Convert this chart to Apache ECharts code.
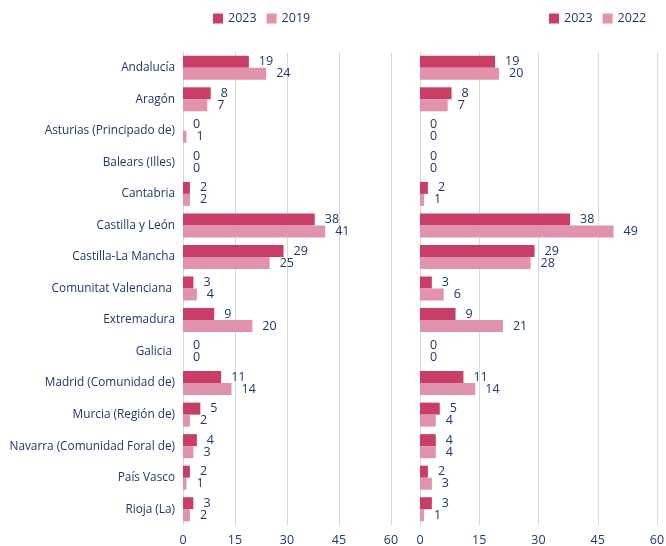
<!DOCTYPE html>
<html>
<head>
<meta charset="utf-8">
<script src="https://cdn.jsdelivr.net/npm/echarts@6/dist/echarts.min.js"></script>
<style>
	html, body { margin: 0; padding: 0; background: #fff; }
	#chart { width: 666px; height: 546px; }
</style>
</head>
<body>
<div id="chart"></div>
<script>
var regiones = ['Andalucía', 'Aragón', 'Asturias (Principado de)', 'Balears (Illes)', 'Cantabria',
	'Castilla y León', 'Castilla-La Mancha', 'Comunitat Valenciana ', 'Extremadura', 'Galicia ',
	'Madrid (Comunidad de)', 'Murcia (Región de)', 'Navarra (Comunidad Foral de)', 'País Vasco', 'Rioja (La)'];
var v2023 = [19, 8, 0, 0, 2, 38, 29, 3, 9, 0, 11, 5, 4, 2, 3];
var v2019 = [24, 7, 1, 0, 2, 41, 25, 4, 20, 0, 14, 2, 3, 1, 2];
var v2022 = [20, 7, 0, 0, 1, 49, 28, 6, 21, 0, 14, 4, 4, 3, 1];
var ticks = [0, 15, 30, 45, 60];

var texto = '#1F3864';
var oscuro = '#C83E66';
var claro = '#E093AA';

function ejeX(idx) {
	return {
		type: 'value', gridIndex: idx, min: ticks[0], max: ticks[ticks.length - 1], interval: 15,
		axisLine: { show: false }, axisTick: { show: false },
		axisLabel: { color: texto, fontSize: 12.5, margin: 9, fontFamily: 'Open Sans' },
		splitLine: { lineStyle: { color: '#D9D9D9' } }
	};
}

function ejeY(idx, labels) {
	return {
		type: 'category', gridIndex: idx, data: regiones, inverse: true,
		axisLine: { lineStyle: { color: '#D9D9D9' } }, axisTick: { show: false },
		axisLabel: { show: labels, color: texto, fontSize: 11.8, margin: 8, fontFamily: 'Open Sans' }
	};
}

function serie(nombre, datos, color, idx) {
	return {
		name: nombre, type: 'bar', xAxisIndex: idx, yAxisIndex: idx, data: datos,
		barWidth: 12, barGap: '0%', itemStyle: { color: color },
		label: { show: true, position: 'right', distance: 10, color: texto, fontSize: 12.5, fontFamily: 'Open Sans' }
	};
}

var myChart = echarts.init(document.getElementById('chart'));
var option = {
	animation: false,
	textStyle: { fontFamily: 'Open Sans' },
	legend: [{
		data: ['2023', '2019'], left: 208, top: 7, itemWidth: 10, itemHeight: 10, itemGap: 10,
		textStyle: { color: texto, fontSize: 12.5 }, icon: 'rect'
	}, {
		data: ['2023', '2022'], left: 544, top: 7, itemWidth: 10, itemHeight: 10, itemGap: 10,
		textStyle: { color: texto, fontSize: 12.5 }, icon: 'rect'
	}],
	grid: [
		{ left: 183, width: 208, top: 52, height: 473, outerBoundsMode: 'none' },
		{ left: 420, width: 237, top: 52, height: 473, outerBoundsMode: 'none' }
	],
	xAxis: [ejeX(0), ejeX(1)],
	yAxis: [ejeY(0, true), ejeY(1, false)],
	series: [
		serie('2023', v2023, oscuro, 0),
		serie('2019', v2019, claro, 0),
		serie('2023', v2023, oscuro, 1),
		serie('2022', v2022, claro, 1)
	]
};
myChart.setOption(option);
</script>
</body>
</html>
